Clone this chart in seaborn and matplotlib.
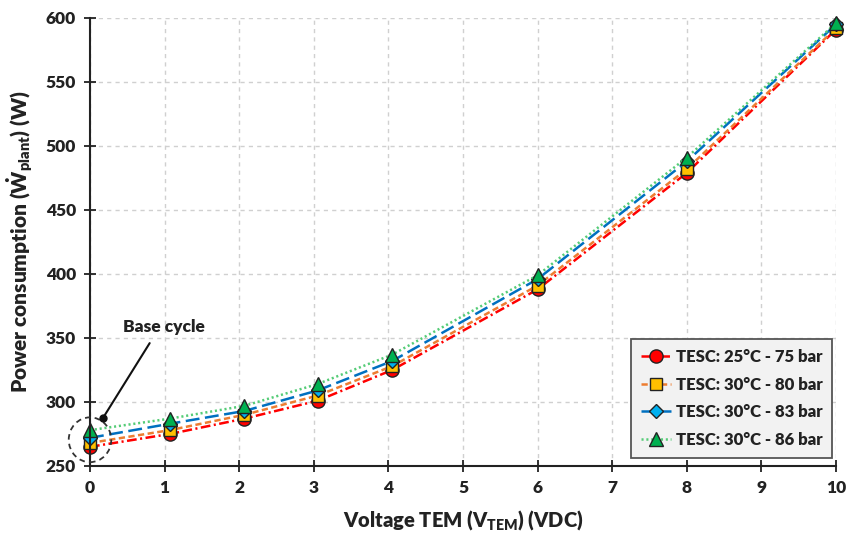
import matplotlib
matplotlib.use("Agg")
import matplotlib.pyplot as plt
import seaborn as sns
import pandas as pd
from matplotlib.patches import Ellipse

# ---- data ----
voltage = [0, 1.07, 2.07, 3.05, 4.05, 6.0, 8.0, 10.0]
p_25_75 = [265, 275, 287, 301, 325, 388, 479, 591]
p_30_80 = [268, 278, 290, 305, 328, 391, 482, 592]
p_30_83 = [272, 283, 293, 309, 332, 396, 488, 595]
p_30_86 = [278, 287, 297, 314, 337, 399, 491, 596]
labels = ["TESC: 25°C - 75 bar", "TESC: 30°C - 80 bar",
          "TESC: 30°C - 83 bar", "TESC: 30°C - 86 bar"]
x_ticks = list(range(0, 11))
y_ticks = [250, 300, 350, 400, 450, 500, 550, 600]

W = "heavy"

sns.set_theme(style="white")
plt.rcParams["font.family"] = ["Lato", "DejaVu Sans"]
plt.rcParams["font.weight"] = W
plt.rcParams["mathtext.fontset"] = "custom"
plt.rcParams["mathtext.rm"] = "Lato:heavy"
plt.rcParams["mathtext.it"] = "Lato:heavy"
plt.rcParams["mathtext.bf"] = "Lato:heavy"
plt.rcParams["mathtext.default"] = "rm"
plt.rcParams["lines.scale_dashes"] = False

fig = plt.figure(figsize=(8.46, 5.38), dpi=100)
ax = fig.add_axes([90 / 846, 72 / 538, 746 / 846, 448 / 538])

series = [p_25_75, p_30_80, p_30_83, p_30_86]
styles = [
    dict(color="#FF0000", marker="o", mfc="#FF0000", dashes=(7, 2.5, 1.5, 2.5)),
    dict(color="#ED7D31", marker="s", mfc="#FFC000", dashes=(4.5, 2.5)),
    dict(color="#0070C0", marker="D", mfc="#00B0F0", dashes=(10, 4)),
    dict(color="#55CC77", marker="^", mfc="#00B050", dashes=(1.5, 2)),
]
msizes = [9.5, 9, 7.5, 10]

for vals, lab, st, ms in zip(series, labels, styles, msizes):
    n_before = len(ax.lines)
    sns.lineplot(x=voltage, y=vals, ax=ax, label=lab, color=st["color"],
                 marker=st["marker"], markersize=ms, markerfacecolor=st["mfc"],
                 markeredgecolor="#222222", markeredgewidth=1.0, linewidth=1.8)
    ln = ax.lines[n_before]
    ln.set_dashes(st["dashes"])
    ln.set_clip_on(False)

ax.set_xlim(0, 10)
ax.set_ylim(250, 600)
ax.set_xticks(x_ticks)
ax.set_yticks(y_ticks)
ax.tick_params(axis="both", which="major", labelsize=12.5, colors="#222222",
               direction="inout", length=8, width=1.3, left=True, bottom=True, pad=6)
for t in ax.get_xticklabels() + ax.get_yticklabels():
    t.set_fontweight(W)
ax.grid(True, color="#d0d0d0", linestyle=(0, (3, 3)), linewidth=1.0)
for s in ["top", "right"]:
    ax.spines[s].set_visible(False)
for s in ["left", "bottom"]:
    ax.spines[s].set_color("#222222")
    ax.spines[s].set_linewidth(1.5)

ax.set_xlabel(r"Voltage TEM (V$_{\mathrm{TEM}}$) (VDC)", fontsize=14.5,
              fontweight=W, color="#222222", labelpad=9)
ax.set_ylabel(r"Power consumption ($\dot{\mathrm{W}}_{\mathrm{plant}}$) (W)",
              fontsize=15, fontweight=W, color="#222222", labelpad=8)

leg = ax.legend(loc="lower right", bbox_to_anchor=(0.995, 0.018), fontsize=12,
                frameon=True, fancybox=False, edgecolor="#555555",
                facecolor="#f2f2f2", framealpha=1, handlelength=1.8,
                handletextpad=0.3, labelspacing=0.7, borderpad=0.6,
                borderaxespad=0)
leg.get_frame().set_linewidth(1.3)
for t in leg.get_texts():
    t.set_fontweight(W)
    t.set_color("#222222")

# base cycle annotation
ell_center = (0.0, 270.5)
ax.add_patch(Ellipse(ell_center, width=0.57, height=35, fill=False,
                     linestyle=(0, (4, 3)), edgecolor="#333333", linewidth=1.3,
                     clip_on=False, zorder=5))
dot_xy = (0.174, 287.5)
line_top = (0.80, 346)
ax.annotate("", xy=dot_xy, xytext=line_top,
            arrowprops=dict(arrowstyle="-", color="#111111", lw=1.5,
                            shrinkA=0, shrinkB=0))
ax.plot([dot_xy[0]], [dot_xy[1]], "o", color="#111111", markersize=5, zorder=6)
ax.text(0.44, 358.5, "Base cycle", fontsize=12.5, fontweight=W,
        color="#222222", ha="left", va="center")

fig.savefig("out.png", dpi=100)
